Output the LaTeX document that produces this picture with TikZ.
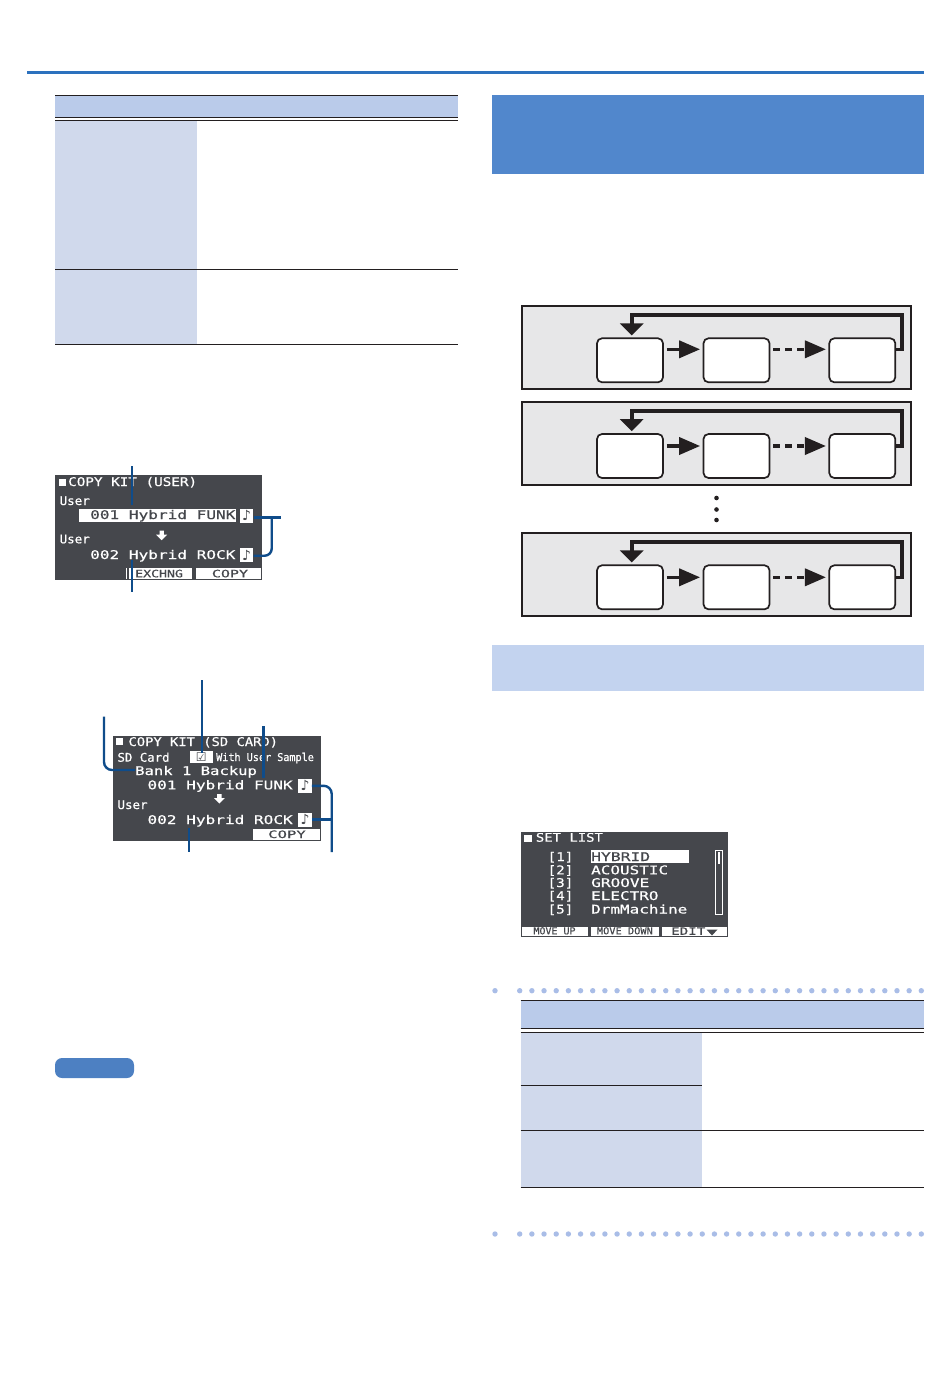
\documentclass[tikz,border=0pt]{standalone}
\usepackage{fontspec}
\usepackage{graphicx}
\usetikzlibrary{arrows.meta}
\newfontfamily\lcd[FakeBold=0.5]{DejaVu Sans Mono}
\newfontfamily\symf{DejaVu Sans}
\definecolor{hdr}{HTML}{BACBEA}
\definecolor{col}{HTML}{D0D9EC}
\definecolor{rule}{HTML}{231F20}
\definecolor{topb}{HTML}{2C71BE}
\definecolor{dotc}{HTML}{A9BDE7}
\definecolor{scr}{HTML}{45474C}
\definecolor{lead}{HTML}{0F4C8A}
\definecolor{band}{HTML}{5187CC}
\definecolor{sband}{HTML}{C3D3EF}
\definecolor{gbox}{HTML}{E7E7E8}
\newcommand\lcdt[3][1]{\scalebox{#2}[#1]{\lcd\fontsize{12pt}{12pt}\selectfont #3}}
\tikzset{
 x=1pt,y=-1pt,
 tline/.style={draw=rule,line width=1pt},
 lt/.style={anchor=base west,inner sep=0pt,text=white},
 ltd/.style={anchor=base west,inner sep=0pt,text=scr},
 iconbox/.style={fill=white,minimum width=13.4pt,minimum height=14pt,inner sep=0pt,text=scr,font=\symf\bfseries\fontsize{14pt}{14pt}\selectfont},
 leadline/.style={draw=lead,line width=2.4pt},
 scredge/.style={draw=scr,line width=1pt},
 flowbox/.style={draw=rule,fill=white,line width=1.7pt,rounded corners=5pt,minimum width=66pt,minimum height=44pt,inner sep=0pt},
 flowarrow/.style={draw=rule,line width=3.6pt,-{Triangle[length=21pt,width=17pt]}},
 looparrow/.style={draw=rule,line width=3.6pt,-{Triangle[length=12pt,width=23pt]}},
 dn/.pic={\fill[white] (-2.2,0)--(2.2,0)--(2.2,4)--(5.5,4)--(0,9.5)--(-5.5,4)--(-2.2,4)--cycle;},
}
\begin{document}
\begin{tikzpicture}
\useasboundingbox (0,0) rectangle (950,1376);
\fill[white] (0,0) rectangle (950,1376);
% top rule
\fill[topb] (27,70.8) rectangle (924,73.9);
% table 1
\fill[hdr] (55,95) rectangle (458.3,117.3);
\fill[col] (55,120.3) rectangle (197.3,344.3);
\draw[tline] (55,95)--(458.3,95);
\draw[tline] (55,117.3)--(458.3,117.3);
\draw[tline] (55,120.3)--(458.3,120.3);
\draw[tline] (55,269.3)--(458.3,269.3);
\draw[tline] (55,344.3)--(458.3,344.3);
% bands
\fill[band] (492,95) rectangle (924,174);
\fill[sband] (492,645) rectangle (924,691);
% flow rows
\foreach \r/\t/\ao in {1/306/11,2/401.7/10,3/533/10}{
 \draw[draw=rule,fill=gbox,line width=1.8pt] (521.7,\t) rectangle (911.2,\t+83);
 \node[flowbox] (a\r) at (630,\t+54.3) {};
 \node[flowbox] (b\r) at (736.5,\t+54.3) {};
 \node[flowbox] (c\r) at (862.3,\t+54.3) {};
 \coordinate (tr\r) at (901.7,\t+9);
 \coordinate (tl\r) at (631.7,\t+9);
 \draw[flowarrow,shorten >=2.5pt,shorten <=3pt] ([yshift=\ao pt]a\r.east) -- ([yshift=\ao pt]b\r.west);
 \draw[flowarrow,dash pattern=on 6.5pt off 5.5pt,shorten >=2.5pt,shorten <=3pt] ([yshift=\ao pt]b\r.east) -- ([yshift=\ao pt]c\r.west);
 \draw[looparrow,shorten >=2pt] ([yshift=\ao pt]c\r.east) -- ([yshift=\ao pt]c\r.east -| tr\r) -- (tr\r) -- (tl\r) -- (tl\r |- a\r.north);
}
\foreach \yy in {498,509.5,520} \fill[rule] (716.5,\yy) circle (2.3);

% LCD 1
\fill[scr] (55,475.5) rectangle (261.7,579.3);
\fill[white] (58.5,479) rectangle (65.7,485.7);
\node[lt] (t1) at (68,486) {\lcdt{1.19}{COPY KIT (USER)}};
\node[lt] (u1) at (59.5,505) {\lcdt{1.04}{User}};
\fill[white] (79,509.3) rectangle (235.7,521.7);
\node[ltd] (k1) at (90,519) {\lcdt{1.34}{001 Hybrid FUNK}};
\node[iconbox] (i1) at (246.7,515.7) {♪};
\pic at (161.7,530.7) {dn};
\node[lt] (u2) at (59.5,543.3) {\lcdt{1.04}{User}};
\node[lt] (k2) at (90,559) {\lcdt{1.34}{002 Hybrid ROCK}};
\node[iconbox] (i2) at (246.7,555) {♪};
\fill[white] (126,568.3) rectangle (191.7,579.3);
\fill[white] (196,568.3) rectangle (261.7,579.3);
\node[ltd] (s1) at (135,577.3) {\lcdt[.85]{1.1}{EXCHNG}};
\node[ltd] (s2) at (211.7,577.3) {\lcdt[.85]{1.25}{COPY}};
\draw[scredge] (55,475.5) rectangle (261.7,579.3);
\draw[scr,line width=1.2pt] (128,568.3)--(128,578.5);
\coordinate (l1a) at (131.7,466);
\coordinate (l1b) at (131.7,505);
\coordinate (l1c) at (131.7,560);
\coordinate (l1d) at (131.7,591.7);
\coordinate (l1e) at (280.7,517.3);
\coordinate (l1f) at (271.7,517.3);
\draw[leadline] (l1a)--(l1b);
\draw[leadline] (l1c)--(l1d);
\draw[leadline] ([yshift=-1.6pt]i1.east)--(l1e);
\draw[leadline,rounded corners=7pt] ([yshift=-.7pt]i2.east)--(l1f |- 0,555.7)--(l1f);

% LCD 2
\fill[scr] (113.3,736) rectangle (320,840);
\fill[white] (116,738.3) rectangle (123,745);
\node[lt] (t2) at (128.3,746) {\lcdt{1.15}{COPY KIT (SD CARD)}};
\node[lt] (sd) at (117.3,761.7) {\lcdt{1.03}{SD Card}};
\node[iconbox,minimum width=22.7pt,minimum height=12.3pt,font=\symf\fontsize{12pt}{12pt}\selectfont] (cb) at (201.3,757.2) {☑};
\node[lt] (wu) at (216,761) {\lcdt[.9]{.845}{With User Sample}};
\node[lt] (bk) at (135,775) {\lcdt{1.296}{Bank 1 Backup}};
\node[lt] (k3) at (147.3,789.3) {\lcdt{1.34}{001 Hybrid FUNK}};
\node[iconbox] (i3) at (305,785.8) {♪};
\pic at (219.3,794) {dn};
\node[lt] (u3) at (117.3,809) {\lcdt{1.04}{User}};
\node[lt] (k4) at (147.3,824) {\lcdt{1.34}{002 Hybrid ROCK}};
\node[iconbox] (i4) at (305,819.5) {♪};
\fill[white] (253.3,829.3) rectangle (320,840);
\node[ltd] (s3) at (268,838) {\lcdt[.85]{1.3}{COPY}};
\draw[scredge] (113.3,736) rectangle (320,840);
\coordinate (l2a) at (104,716.7);
\coordinate (l2b) at (201.7,680);
\coordinate (l2c) at (263.3,726);
\coordinate (l2d) at (263.3,778);
\coordinate (l2e) at (189,828.3);
\coordinate (l2f) at (189,852);
\coordinate (l2g) at (331.7,852);
\draw[leadline,rounded corners=8pt] (l2a)--(104,770)--(bk.west |- 0,770);
\draw[leadline] (l2b)--([yshift=-2pt]l2b |- cb.north);
\draw[leadline] (l2c)--(l2d);
\draw[leadline] (l2e)--(l2f);
\draw[leadline,rounded corners=8pt] (i3.east)--(l2g |- i3.east)--(l2g);
\draw[leadline] (i4.east)--(l2g |- i4.east);

% LCD 3
\fill[scr] (521,832.3) rectangle (727.3,936.7);
\fill[white] (524,835) rectangle (531.7,841.5);
\node[lt] (t3) at (535.7,841.7) {\lcdt{1.16}{SET LIST}};
\fill[white] (591,850) rectangle (689,862.7);
\node[lt] (n1) at (547.5,861) {\lcdt{1.18}{[1]}};
\node[lt] (n2) at (547.5,874.3) {\lcdt{1.18}{[2]}};
\node[lt] (n3) at (547.5,887) {\lcdt{1.18}{[3]}};
\node[lt] (n4) at (547.5,900) {\lcdt{1.18}{[4]}};
\node[lt] (n5) at (547.5,913.5) {\lcdt{1.18}{[5]}};
\node[ltd] (m1) at (591,861) {\lcdt{1.36}{HYBRID}};
\node[lt] (m2) at (591,874.3) {\lcdt{1.33}{ACOUSTIC}};
\node[lt] (m3) at (591,887) {\lcdt{1.34}{GROOVE}};
\node[lt] (m4) at (591,900) {\lcdt{1.33}{ELECTRO}};
\node[lt] (m5) at (591,913.5) {\lcdt{1.33}{DrmMachine}};
\draw[white,line width=.9pt] (715,850.7) rectangle (722.3,914.3);
\draw[white,line width=.8pt] (718,852.5) rectangle (719.5,863);
\fill[white] (521,926.7) rectangle (587.7,936.7);
\fill[white] (591,926.7) rectangle (659,936.7);
\fill[white] (662.3,926.7) rectangle (727.3,936.7);
\node[ltd] (s4) at (533.3,934.3) {\lcdt[.8]{.83}{MOVE UP}};
\node[ltd] (s5) at (596.7,934.3) {\lcdt[.8]{.86}{MOVE DOWN}};
\node[ltd] (s6) at (671,934.8) {\lcdt[.85]{1.18}{EDIT}};
\fill[scr] (706.5,929.5)--(717.5,929.5)--(712,935.5)--cycle;
\draw[scredge] (521,832.3) rectangle (727.3,936.7);

% memo pill
\fill[band!95!black,rounded corners=7pt] (55,1058) rectangle (134,1078);

% dots
\foreach \yy in {990.7,1234}{
 \fill[dotc] (495,\yy) circle (2.7);
 \foreach \k in {0,...,33} \fill[dotc] (519.7+12.17*\k,\yy) circle (2.7);
}
% table 2
\fill[hdr] (520.7,1000) rectangle (923.7,1028.3);
\fill[col] (520.7,1032.3) rectangle (702.3,1187.3);
\draw[tline] (520.7,1000)--(923.7,1000);
\draw[tline] (520.7,1028.3)--(923.7,1028.3);
\draw[tline] (520.7,1032.3)--(923.7,1032.3);
\draw[tline] (520.7,1085.3)--(702.3,1085.3);
\draw[tline] (520.7,1130.3)--(923.7,1130.3);
\draw[tline] (520.7,1187.3)--(923.7,1187.3);
\end{tikzpicture}
\end{document}
